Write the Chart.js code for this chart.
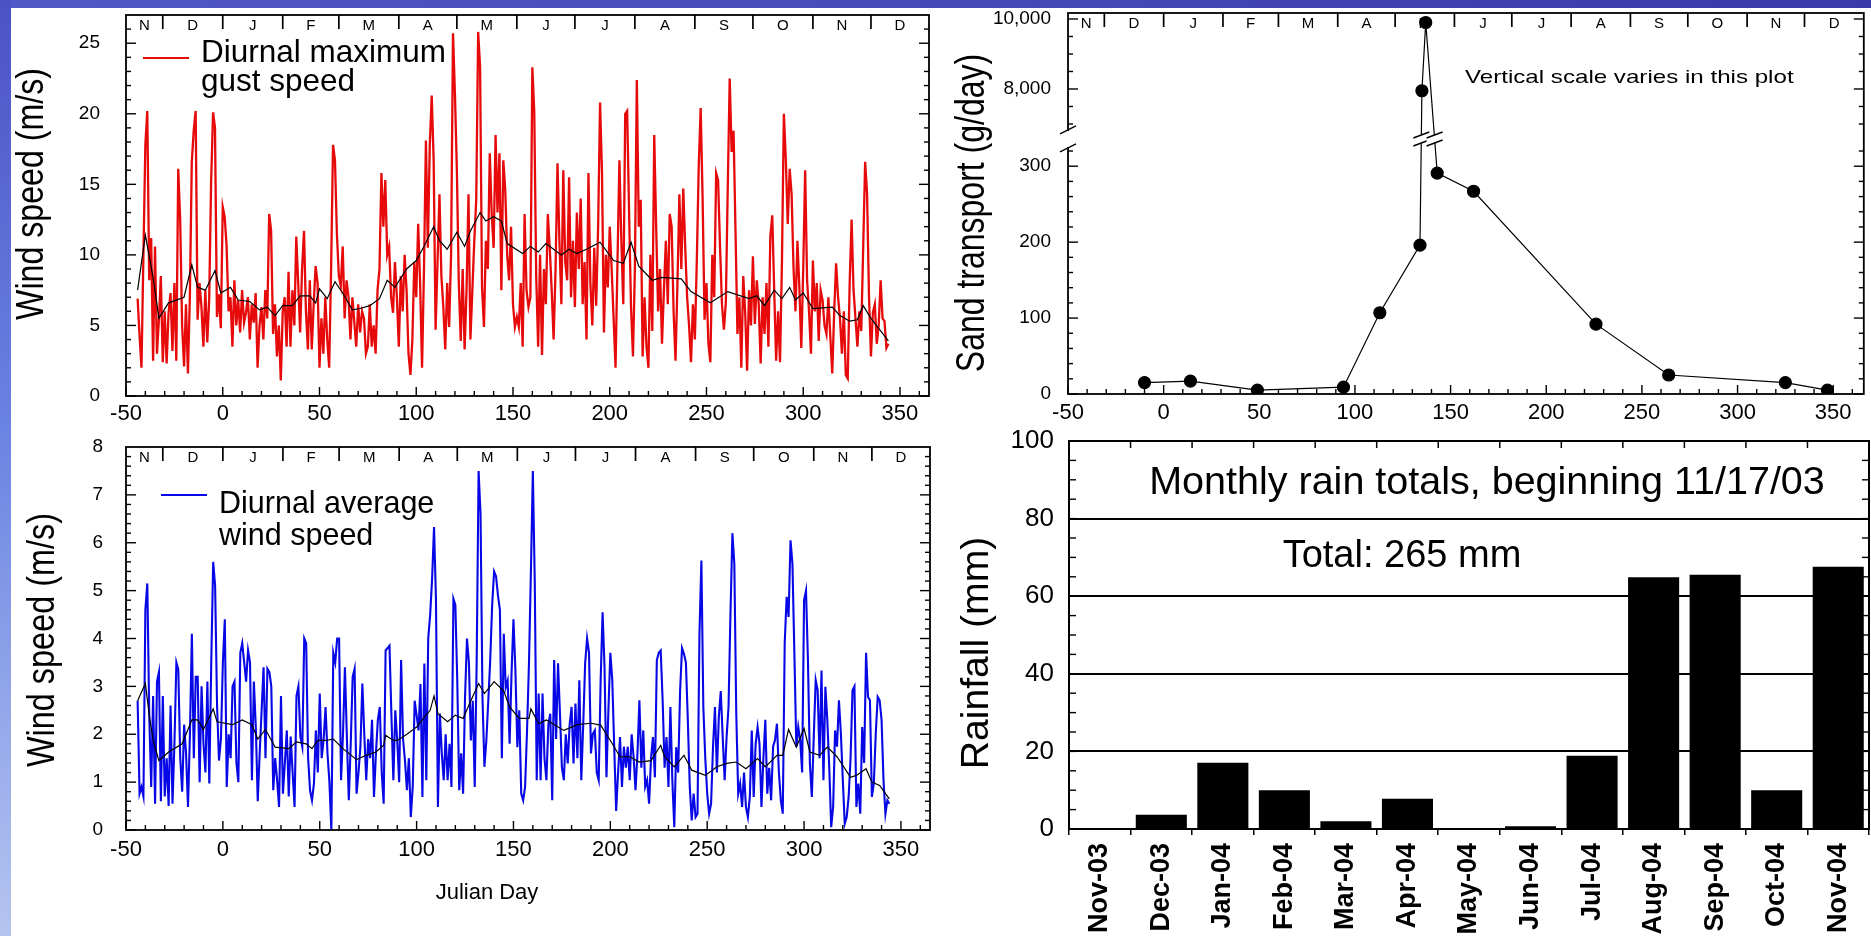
<!DOCTYPE html>
<html>
<head>
<meta charset="utf-8">
<script src="https://cdn.jsdelivr.net/npm/chart.js@4.4.1/dist/chart.umd.min.js"></script>
<style>
  html, body { margin: 0; padding: 0; background: #fff; }
  body { width: 1871px; height: 936px; position: relative; overflow: hidden; }
  canvas { position: absolute; }
  #topBand { position: absolute; left: 0; top: 0; width: 1871px; height: 8px; background: linear-gradient(to right, #5158c8, #3a3aaa); z-index: 2; }
  #leftBand { position: absolute; left: 0; top: 0; width: 11px; height: 936px; background: linear-gradient(to bottom, #4c52c6, #6a82e2 45%, #b4c4f0); z-index: 2; }
</style>
</head>
<body>
<div id="topBand"></div>
<div id="leftBand"></div>
<canvas id="gustChart" width="940" height="432" style="left:0;top:0"></canvas>
<canvas id="windChart" width="940" height="504" style="left:0;top:432px"></canvas>
<canvas id="sandChart" width="931" height="420" style="left:940px;top:0"></canvas>
<canvas id="rainChart" width="931" height="516" style="left:940px;top:420px"></canvas>
<script>
const FONT = "'Liberation Sans', Arial, Helvetica, sans-serif";

// daily series start on Julian day -44 (11/17/03)
const firstDay = -44;

const gustSpeed = [
  6.9, 4.3, 2.0, 10.0, 17.8, 20.2, 8.2, 11.2, 2.5, 10.6,
  3.0, 5.4, 8.5, 2.4, 6.0, 2.3, 5.9, 7.3, 3.2, 8.0,
  2.5, 16.1, 12.5, 5.0, 2.1, 6.5, 1.6, 7.0, 16.6, 18.8,
  20.2, 5.4, 8.0, 6.3, 3.5, 7.5, 3.8, 6.9, 15.2, 20.1,
  19.0, 5.6, 7.2, 4.8, 13.4, 12.7, 10.6, 6.0, 7.0, 3.5,
  8.2, 5.0, 6.8, 4.5, 7.5, 5.2, 5.9, 7.0, 4.0, 6.5,
  5.2, 7.3, 2.0, 5.0, 6.3, 4.0, 7.5, 5.5, 12.9, 11.7,
  4.4, 6.5, 2.8, 5.0, 1.1, 6.0, 7.0, 3.5, 8.8, 3.5,
  7.5, 5.0, 11.3, 8.0, 4.5, 9.0, 11.7, 6.0, 3.3, 8.2,
  3.3, 6.5, 9.2, 8.0, 2.0, 5.5, 3.0, 7.0, 4.0, 2.0,
  9.0, 17.8, 16.7, 11.5, 8.5, 7.8, 10.6, 5.5, 8.2, 7.0,
  4.0, 7.0, 5.2, 3.5, 6.5, 4.5, 6.0, 5.5, 3.0, 3.5,
  6.5, 3.5, 5.0, 3.0, 7.5, 9.0, 15.8, 12.0, 15.3, 10.0,
  10.6, 7.0, 5.9, 9.5, 7.0, 3.5, 8.5, 6.0, 10.0, 7.5,
  3.0, 1.5, 4.0, 9.5, 7.0, 12.2, 8.0, 2.0, 9.0, 18.1,
  10.5, 17.8, 21.3, 16.7, 4.7, 9.5, 14.3, 8.5, 6.3, 3.3,
  8.0, 4.9, 10.0, 25.7, 21.4, 16.0, 8.0, 3.9, 9.0, 3.3,
  7.5, 14.3, 4.0, 7.5, 11.0, 13.9, 25.8, 23.3, 7.7, 4.9,
  11.0, 9.0, 17.2, 12.9, 10.5, 18.5, 13.0, 17.2, 7.5, 16.7,
  14.6, 10.0, 8.2, 12.0, 6.5, 4.9, 5.6, 4.9, 8.0, 3.5,
  12.9, 7.5, 6.3, 7.0, 23.3, 20.1, 8.5, 3.5, 10.0, 2.9,
  9.0, 6.5, 12.9, 10.5, 7.5, 4.0, 9.0, 16.5, 11.0, 6.5,
  16.0, 9.5, 8.2, 15.5, 7.0, 11.0, 6.3, 13.0, 9.0, 14.0,
  6.5, 9.5, 4.0, 15.8, 8.0, 5.0, 10.5, 6.4, 12.0, 20.8,
  15.8, 4.5, 10.0, 7.7, 12.0, 9.0, 5.5, 2.0, 9.5, 16.7,
  11.0, 6.5, 20.0, 20.2, 13.0, 6.3, 2.8, 9.0, 22.4, 12.0,
  13.9, 2.8, 7.0, 3.5, 2.0, 10.0, 4.6, 18.5, 12.0, 6.0,
  9.0, 3.7, 7.5, 11.0, 6.5, 12.9, 12.0, 6.0, 2.5, 8.0,
  14.3, 9.0, 14.7, 10.6, 7.0, 5.0, 2.4, 6.5, 4.0, 9.6,
  16.3, 20.4, 14.0, 5.4, 8.0, 3.7, 2.4, 10.0, 7.0, 15.8,
  15.3, 10.6, 6.5, 4.7, 6.6, 14.8, 22.5, 17.3, 18.8, 11.7,
  4.4, 7.0, 2.0, 8.5, 5.9, 1.8, 7.5, 5.0, 9.9, 5.1,
  8.2, 6.5, 2.3, 7.0, 4.4, 8.0, 3.5, 11.3, 12.8, 7.5,
  2.5, 6.0, 2.4, 9.5, 20.0, 16.8, 12.2, 16.1, 14.3, 9.0,
  6.0, 11.0, 7.7, 3.4, 9.0, 16.0, 8.2, 6.0, 3.0, 9.6,
  6.0, 8.0, 3.9, 7.5, 6.8, 5.0, 4.4, 7.0, 4.2, 1.6,
  6.0, 9.4, 7.0, 5.5, 3.0, 6.0, 1.5, 1.25, 8.0, 12.5,
  7.5, 5.5, 3.5, 6.0, 4.6, 10.6, 16.6, 14.3, 7.0, 2.8,
  5.9, 6.5, 3.7, 5.0, 8.2, 5.5, 5.3, 3.4, 3.7
];

const gustMeanDays = [-44, -40, -36, -33, -28, -20, -16, -13, -9, -4, -1, 4, 8, 14, 19, 23, 27, 31, 36, 40,
  45, 48, 50, 54, 58, 62, 67, 71, 76, 81, 85, 89, 95, 100, 104, 109, 112, 116, 121, 125,
  128, 133, 136, 140, 144, 147, 155, 159, 163, 167, 175, 179, 183, 188, 195, 202, 207, 211, 215, 222,
  227, 237, 242, 252, 261, 272, 276, 280, 285, 289, 293, 296, 300, 305, 315, 319, 324, 328, 331, 335, 339, 344];
const gustMeanSpeed = [7.5, 11.4, 8.4, 5.5, 6.6, 7.0, 9.3, 7.7, 7.5, 8.9, 7.3, 7.7, 6.8, 6.7, 6.1, 6.3, 5.7, 6.4, 6.4, 7.1,
  7.1, 6.6, 7.6, 6.9, 8.1, 7.3, 6.1, 6.2, 6.4, 6.9, 8.2, 7.7, 9.0, 9.6, 10.6, 12.0, 11.0, 10.4, 11.6, 10.6,
  11.7, 13.0, 12.4, 12.7, 12.4, 10.8, 10.1, 10.6, 10.2, 10.8, 10.0, 10.4, 10.1, 10.4, 10.9, 9.6, 9.4, 10.9, 9.2, 8.2,
  8.4, 8.3, 7.4, 6.6, 7.4, 6.9, 7.1, 6.4, 7.5, 6.9, 7.7, 6.8, 7.3, 6.2, 6.3, 5.7, 5.3, 5.4, 6.4, 5.5, 4.8, 3.9];

const windSpeed = [
  2.7, 0.76, 0.9, 0.7, 4.6, 5.15, 2.4, 0.9, 2.8, 0.55,
  3.1, 3.3, 0.6, 2.8, 0.7, 1.5, 0.5, 2.6, 0.55, 1.8,
  3.5, 3.35, 1.5, 0.8, 2.2, 1.6, 0.48, 2.0, 4.1, 1.5,
  3.2, 3.2, 1.0, 3.0, 1.8, 1.2, 3.1, 0.97, 3.5, 5.6,
  5.1, 2.6, 1.45, 1.9, 3.5, 4.4, 0.9, 2.0, 1.5, 3.0,
  3.1, 1.4, 1.0, 3.7, 3.9, 3.5, 3.1, 3.75, 3.5, 1.04,
  3.1, 2.15, 0.6, 1.6, 2.5, 3.4, 1.5, 3.37, 3.3, 3.0,
  0.83, 1.5, 1.04, 0.48, 2.8, 0.76, 1.4, 2.08, 0.7, 1.95,
  1.2, 0.48, 2.8, 3.0, 1.95, 1.74, 4.0, 3.9, 1.5, 0.83,
  0.62, 0.97, 2.08, 1.2, 2.85, 1.5, 1.88, 2.57, 1.6, 1.0,
  0.0, 3.7, 3.5, 4.0, 4.0, 1.04, 2.0, 3.4, 1.95, 0.62,
  1.8, 3.2, 3.37, 0.76, 1.2, 1.74, 3.06, 2.0, 1.04, 1.9,
  1.5, 2.3, 0.69, 1.6, 2.3, 2.57, 1.2, 0.55, 3.75, 3.8,
  3.85, 2.4, 1.04, 2.5, 1.87, 1.0, 3.55, 1.9, 1.45, 0.83,
  1.5, 0.27, 0.9, 2.7, 2.4, 2.08, 3.05, 0.69, 3.48, 1.04,
  4.0, 4.5, 5.25, 6.33, 4.8, 0.48, 2.43, 1.6, 1.04, 2.0,
  1.04, 1.8, 0.9, 4.83, 4.7, 3.1, 0.83, 1.6, 0.76, 2.78,
  4.0, 3.5, 1.87, 2.7, 0.9, 3.5, 7.5, 6.6, 2.78, 1.32,
  1.87, 2.7, 3.55, 4.7, 5.4, 5.3, 4.9, 4.6, 1.5, 4.1,
  2.98, 3.12, 1.8, 3.27, 4.4, 3.33, 1.73, 2.5, 0.76, 0.62,
  0.9, 2.08, 3.48, 5.4, 7.5, 5.15, 1.04, 2.85, 1.04, 2.85,
  1.5, 1.04, 2.2, 2.43, 0.62, 3.55, 1.9, 3.48, 2.43, 1.3,
  1.04, 2.0, 1.39, 2.2, 2.57, 1.39, 2.64, 1.5, 3.13, 1.04,
  2.2, 3.48, 4.0, 3.7, 1.6, 2.01, 2.08, 1.2, 1.04, 3.13,
  4.55, 3.4, 1.1, 2.5, 3.7, 3.13, 1.74, 0.4, 1.2, 1.94,
  0.9, 1.74, 1.3, 1.74, 1.04, 2.0, 1.53, 0.83, 1.6, 2.71,
  1.3, 2.08, 0.9, 1.04, 0.55, 1.5, 1.94, 1.1, 3.55, 3.7,
  3.75, 2.71, 1.3, 1.94, 0.9, 2.57, 1.04, 0.06, 1.73, 1.2,
  2.9, 3.8, 3.68, 3.5, 2.29, 0.9, 0.2, 0.76, 0.27, 0.34,
  4.1, 5.63, 2.57, 1.5, 0.76, 0.34, 0.55, 1.74, 2.57, 1.2,
  2.36, 2.9, 1.94, 1.04, 1.94, 2.57, 4.5, 6.2, 5.56, 2.43,
  0.76, 0.97, 0.48, 1.2, 0.48, 0.27, 0.69, 2.08, 0.69, 1.8,
  2.15, 1.8, 0.48, 1.5, 2.3, 0.76, 1.3, 0.62, 1.74, 1.88,
  2.22, 1.2, 0.62, 0.34, 3.9, 4.87, 4.45, 6.05, 5.56, 3.68,
  1.74, 2.15, 1.87, 1.2, 4.8, 5.0, 3.54, 1.39, 0.69, 1.94,
  3.13, 2.92, 1.5, 3.33, 1.04, 2.99, 2.29, 1.3, 0.06, 0.48,
  2.08, 1.74, 2.71, 2.01, 1.04, 0.13, 0.27, 0.69, 1.5, 2.92,
  3.0, 0.48, 0.97, 0.34, 2.15, 1.4, 3.7, 2.78, 2.71, 0.69,
  0.97, 2.01, 2.78, 2.71, 2.3, 1.04, 0.34, 0.62, 0.55
];

const windMeanDays = [-44, -40, -38, -36, -33, -28, -21, -16, -13, -10, -5, -3, 5, 10, 15, 18, 22, 27, 34, 38,
  43, 46, 49, 53, 57, 62, 69, 74, 79, 83, 84, 88, 90, 95, 100, 104, 107, 109, 111, 116,
  120, 124, 128, 132, 135, 140, 145, 148, 153, 158, 159, 163, 167, 176, 183, 190, 195, 200, 205, 210,
  215, 221, 226, 228, 233, 238, 242, 249, 255, 260, 265, 270, 276, 280, 286, 289, 292, 296, 300, 303,
  308, 312, 317, 324, 327, 332, 335, 339, 344];
const windMeanSpeed = [2.7, 3.06, 2.4, 1.87, 1.45, 1.63, 1.8, 2.3, 2.3, 2.1, 2.53, 2.26, 2.2, 2.3, 2.2, 1.9, 2.1, 1.73, 1.7, 1.84,
  1.8, 1.7, 1.87, 1.87, 1.9, 1.7, 1.47, 1.56, 1.63, 1.77, 1.98, 1.87, 1.87, 2.0, 2.15, 2.36, 2.5, 2.8, 2.43, 2.26,
  2.4, 2.33, 2.7, 3.06, 2.85, 3.1, 2.9, 2.57, 2.33, 2.33, 2.53, 2.22, 2.3, 2.08, 2.2, 2.23, 2.19, 1.87, 1.53, 1.53,
  1.42, 1.45, 1.77, 1.53, 1.32, 1.56, 1.25, 1.14, 1.32, 1.39, 1.42, 1.28, 1.49, 1.32, 1.56, 1.56, 2.1, 1.73, 2.12, 1.63,
  1.56, 1.73, 1.53, 1.1, 1.14, 1.28, 1.0, 0.93, 0.65];

const transportDays = [-10, 14, 49, 94, 113, 134, 135, 137, 143, 162, 226, 264, 325, 347];
const transportRate = [15, 17, 5, 9, 107, 196, 7950, 9900, 291, 267, 92, 25, 15, 5];

const rainMonths = ['Nov-03', 'Dec-03', 'Jan-04', 'Feb-04', 'Mar-04', 'Apr-04', 'May-04',
  'Jun-04', 'Jul-04', 'Aug-04', 'Sep-04', 'Oct-04', 'Nov-04'];
const rainTotals = [0, 3.7, 17.1, 10.0, 2.0, 7.8, 0, 0.7, 18.9, 64.9, 65.5, 10.0, 67.6];

const dayTicks = [-50, 0, 50, 100, 150, 200, 250, 300, 350];
const gustTicks = [0, 5, 10, 15, 20, 25];
const windTicks = [0, 1, 2, 3, 4, 5, 6, 7, 8];
const transportTicks = [0, 100, 200, 300, 8000, 10000];
const rainTicks = [0, 20, 40, 60, 80, 100];
const monthStarts = [-31, 0, 31, 60, 91, 121, 152, 182, 213, 244, 274, 305, 335];
const monthLetters = ['N', 'D', 'J', 'F', 'M', 'A', 'M', 'J', 'J', 'A', 'S', 'O', 'N', 'D'];

// where the sand transport axis is cut
const sandBreak = { low: 324, high: 6829, lowAt: 0.6457, highAt: 0.693 };

const daily = vals => vals.map((v, i) => ({ x: firstDay + i, y: v }));
const pairs = (xs, ys) => xs.map((x, i) => ({ x, y: ys[i] }));

class BrokenScale extends Chart.LinearScale {
  static id = 'broken';
  static defaults = Chart.LinearScale.defaults;
  getPixelForValue(v) {
    if (v === null || v === undefined) return NaN;
    const b = sandBreak;
    let d;
    if (v <= b.low) d = (v - this.min) / (b.low - this.min) * b.lowAt;
    else if (v >= b.high) d = b.highAt + (v - b.high) / (this.max - b.high) * (1 - b.highAt);
    else d = b.lowAt + (v - b.low) / (b.high - b.low) * (b.highAt - b.lowAt);
    return this.getPixelForDecimal(d);
  }
}
Chart.register(BrokenScale);

function line(ctx, x1, y1, x2, y2) {
  ctx.beginPath(); ctx.moveTo(x1, y1); ctx.lineTo(x2, y2); ctx.stroke();
}

function text(ctx, str, x, y, size, o = {}) {
  ctx.save();
  ctx.translate(x, y);
  if (o.rotate) ctx.rotate(-Math.PI / 2);
  ctx.scale(o.sx || 1, 1);
  ctx.font = `${o.weight || 'normal'} ${size}px ${FONT}`;
  ctx.fillStyle = '#000';
  ctx.textAlign = o.align || 'center';
  ctx.textBaseline = o.baseline || 'alphabetic';
  ctx.fillText(str, 0, 0);
  ctx.restore();
}

function frame(chart, w) {
  const { ctx, chartArea: a } = chart;
  ctx.save();
  ctx.strokeStyle = '#000';
  ctx.lineWidth = w;
  ctx.strokeRect(a.left, a.top, a.right - a.left, a.bottom - a.top);
  ctx.restore();
}

// inward tick marks on left and right edges
function yTicks(chart, values, lenFn) {
  const { ctx, chartArea: a } = chart;
  const ys = chart.scales.y;
  ctx.save(); ctx.strokeStyle = '#000'; ctx.lineWidth = 1.4;
  values.forEach((v, i) => {
    const py = ys.getPixelForValue(v), len = lenFn(v, i);
    line(ctx, a.left, py, a.left + len, py);
    line(ctx, a.right, py, a.right - len, py);
  });
  ctx.restore();
}

function xTicks(chart, values, lenFn) {
  const { ctx, chartArea: a } = chart;
  const xs = chart.scales.x;
  ctx.save(); ctx.strokeStyle = '#000'; ctx.lineWidth = 1.4;
  values.forEach(v => {
    const px = xs.getPixelForValue(v);
    line(ctx, px, a.bottom, px, a.bottom - lenFn(v));
  });
  ctx.restore();
}

function months(chart) {
  const { ctx, chartArea: a } = chart;
  const xs = chart.scales.x;
  ctx.save(); ctx.strokeStyle = '#000'; ctx.lineWidth = 1.7;
  monthStarts.forEach(d => {
    const px = xs.getPixelForValue(d);
    line(ctx, px, a.top, px, a.top + 14);
  });
  ctx.restore();
  const edges = [xs.min, ...monthStarts, xs.max];
  monthLetters.forEach((m, i) => {
    text(ctx, m, xs.getPixelForValue((edges[i] + edges[i + 1]) / 2), a.top + 11, 15, { baseline: 'middle' });
  });
}

function legendBox(ctx, color, x1, x2, ly, tx, lines, baselines, size) {
  ctx.save(); ctx.strokeStyle = color; ctx.lineWidth = 2;
  line(ctx, x1, ly, x2, ly);
  ctx.restore();
  lines.forEach((s, i) => text(ctx, s, tx, baselines[i], size, { align: 'left' }));
}

const steps = (from, to, step) => {
  const out = [];
  for (let i = 0; from + i * step <= to + 1e-9; i++) out.push(+(from + i * step).toFixed(3));
  return out;
};

// keep the plot frames exactly where the axes say
const noPad = s => { s.paddingTop = 0; s.paddingBottom = 0; s.paddingLeft = 0; s.paddingRight = 0; };

const common = {
  responsive: false,
  animation: false,
  events: [],
  plugins: { legend: { display: false }, tooltip: { enabled: false } }
};

const dayAxis = (height, pad, max) => ({
  type: 'linear', min: -50, max: max,
  afterBuildTicks: s => { s.ticks = dayTicks.map(v => ({ value: v })); },
  afterFit: s => { s.height = height; noPad(s); },
  grid: { display: false, drawTicks: false },
  border: { display: false },
  ticks: { color: '#000', font: { family: FONT, size: 22 }, padding: pad, maxRotation: 0, autoSkip: false }
});

const valueAxis = (min, max, list, width, pad, size) => ({
  min: min, max: max,
  afterBuildTicks: s => { s.ticks = list.map(v => ({ value: v })); },
  afterFit: s => { s.width = width; noPad(s); },
  grid: { display: false, drawTicks: false },
  border: { display: false },
  ticks: { color: '#000', font: { family: FONT, size: size }, padding: pad, autoSkip: false }
});

// Diurnal maximum gust speed
new Chart(document.getElementById('gustChart'), {
  type: 'line',
  data: {
    datasets: [
      { data: pairs(gustMeanDays, gustMeanSpeed), borderColor: '#000', borderWidth: 1.2, pointRadius: 0, order: 0 },
      { data: daily(gustSpeed), borderColor: '#e60a0a', borderWidth: 2.3, pointRadius: 0, order: 1 }
    ]
  },
  options: {
    ...common,
    layout: { padding: { left: 0, top: 15, right: 11, bottom: 0 } },
    scales: { x: dayAxis(36, 4.4, 365), y: valueAxis(0, 27, gustTicks, 126, 26, 19) }
  },
  plugins: [{
    id: 'gustDecor',
    afterDraw(chart) {
      const ctx = chart.ctx;
      frame(chart, 1.8);
      yTicks(chart, steps(0, 26, 1), v => v % 5 === 0 ? 10 : 5);
      xTicks(chart, steps(-50, 360, 10), d => d % 50 === 0 ? 9 : 5);
      months(chart);
      legendBox(ctx, '#e60a0a', 143, 189, 58, 201, ['Diurnal maximum', 'gust speed'], [61.7, 91], 31.5);
      text(ctx, 'Wind speed (m/s)', 43, 194, 38, { rotate: true, sx: 0.846 });
    }
  }]
});

// Diurnal average wind speed
new Chart(document.getElementById('windChart'), {
  type: 'line',
  data: {
    datasets: [
      { data: pairs(windMeanDays, windMeanSpeed), borderColor: '#000', borderWidth: 1.2, pointRadius: 0, order: 0 },
      { data: daily(windSpeed), borderColor: '#0808e6', borderWidth: 2.1, pointRadius: 0, order: 1 }
    ]
  },
  options: {
    ...common,
    layout: { padding: { left: 0, top: 15, right: 10, bottom: 0 } },
    scales: { x: dayAxis(106, 6.3, 365), y: valueAxis(0, 8, windTicks, 126, 23, 19) }
  },
  plugins: [{
    id: 'windDecor',
    afterDraw(chart) {
      const ctx = chart.ctx;
      frame(chart, 1.8);
      yTicks(chart, steps(0, 7.8, 0.2), (v, i) => i % 5 === 0 ? 10 : 5);
      xTicks(chart, steps(-50, 360, 10), d => d % 50 === 0 ? 9 : 5);
      months(chart);
      legendBox(ctx, '#0808e6', 161, 207, 63, 219, ['Diurnal average', 'wind speed'], [81.3, 113], 30.5);
      text(ctx, 'Julian Day', 487, 461, 22, { baseline: 'middle' });
      text(ctx, 'Wind speed (m/s)', 54, 208, 38, { rotate: true, sx: 0.853 });
    }
  }]
});

// Sand transport, broken vertical axis
new Chart(document.getElementById('sandChart'), {
  type: 'line',
  data: {
    datasets: [{
      data: pairs(transportDays, transportRate),
      borderColor: '#000', borderWidth: 1.2,
      pointRadius: 6, pointBackgroundColor: '#000', pointBorderColor: '#000'
    }]
  },
  options: {
    ...common,
    layout: { padding: { left: 0, top: 13, right: 5, bottom: 0 } },
    scales: {
      x: dayAxis(26, 5.3, 366),
      y: {
        ...valueAxis(0, 10171, transportTicks, 128, 17, 19),
        type: 'broken',
        ticks: { color: '#000', font: { family: FONT, size: 19 }, padding: 17, autoSkip: false,
          callback: v => v.toLocaleString('en-US') }
      }
    }
  },
  plugins: [{
    id: 'sandDecor',
    afterDraw(chart) {
      const { ctx, chartArea: a } = chart;
      const ys = chart.scales.y;
      frame(chart, 1.8);
      const lowTop = ys.getPixelForDecimal(sandBreak.lowAt);
      const upBottom = ys.getPixelForDecimal(sandBreak.highAt);
      const minor = [...steps(0, 320, 20), ...steps(7000, 10000, 500)];
      yTicks(chart, minor, v => transportTicks.includes(v) ? 10 : 5);
      xTicks(chart, steps(-50, 360, 10), d => d % 50 === 0 ? 9 : 5);
      months(chart);
      // cut in the left axis
      ctx.save();
      ctx.fillStyle = '#fff';
      ctx.fillRect(a.left - 3, upBottom + 1, 6, lowTop - upBottom - 2);
      ctx.strokeStyle = '#000'; ctx.lineWidth = 1.4;
      line(ctx, a.left - 8, upBottom + 4, a.left + 8, upBottom - 4);
      line(ctx, a.left - 8, lowTop + 4, a.left + 8, lowTop - 4);
      // cut marks where the line crosses the gap
      const pts = chart.getDatasetMeta(0).data;
      const mid = (lowTop + upBottom) / 2;
      for (let i = 0; i < pts.length - 1; i++) {
        const p = pts[i], q = pts[i + 1];
        if ((p.y - mid) * (q.y - mid) < 0) {
          const xm = p.x + (q.x - p.x) * (mid - p.y) / (q.y - p.y);
          ctx.fillStyle = '#fff';
          ctx.beginPath();
          ctx.moveTo(xm - 8, mid - 1); ctx.lineTo(xm + 8, mid - 7);
          ctx.lineTo(xm + 8, mid + 1); ctx.lineTo(xm - 8, mid + 7);
          ctx.closePath(); ctx.fill();
          line(ctx, xm - 8, mid - 1, xm + 8, mid - 7);
          line(ctx, xm - 8, mid + 7, xm + 8, mid + 1);
        }
      }
      ctx.restore();
      text(ctx, 'Vertical scale varies in this plot', 525, 78, 19, { align: 'left', baseline: 'middle', sx: 1.27 });
      text(ctx, 'Sand transport (g/day)', 44, 213, 40, { rotate: true, sx: 0.8 });
    }
  }]
});

// Monthly rain totals
new Chart(document.getElementById('rainChart'), {
  type: 'bar',
  data: {
    labels: rainMonths,
    datasets: [{ data: rainTotals, backgroundColor: '#000', borderWidth: 0, barPercentage: 0.83, categoryPercentage: 1 }]
  },
  options: {
    ...common,
    layout: { padding: { left: 0, top: 21, right: 2, bottom: 0 } },
    scales: {
      x: {
        afterFit: s => { s.height = 107; noPad(s); },
        grid: { display: true, drawOnChartArea: false, drawTicks: true, tickLength: 6, color: '#000', lineWidth: 1.5 },
        border: { display: false },
        ticks: { color: '#000', font: { family: FONT, size: 27, weight: 'bold' }, padding: 8,
          minRotation: 90, maxRotation: 90, autoSkip: false }
      },
      y: {
        min: 0, max: 100,
        afterBuildTicks: s => { s.ticks = rainTicks.map(v => ({ value: v })); },
        afterFit: s => { s.width = 129; noPad(s); },
        grid: { color: c => (c.tick && c.tick.value > 0 && c.tick.value < 100) ? '#000' : 'rgba(0,0,0,0)', lineWidth: 2, drawTicks: false },
        border: { display: false },
        ticks: { color: '#000', font: { family: FONT, size: 26 }, padding: 15, autoSkip: false }
      }
    }
  },
  plugins: [{
    id: 'rainDecor',
    afterDraw(chart) {
      const { ctx, chartArea: a } = chart;
      const xs = chart.scales.x;
      frame(chart, 2);
      yTicks(chart, steps(0, 100, 5), () => 7);
      const half = (xs.getPixelForValue(1) - xs.getPixelForValue(0)) / 2;
      ctx.save(); ctx.strokeStyle = '#000'; ctx.lineWidth = 1.5;
      rainMonths.forEach((m, i) => {
        const px = xs.getPixelForValue(i) + half;
        line(ctx, px, a.top, px, a.top + 7);
      });
      ctx.restore();
      text(ctx, 'Monthly rain totals, beginning 11/17/03', 547, 63, 39.5, { baseline: 'middle' });
      text(ctx, 'Total: 265 mm', 462, 137, 38, { baseline: 'middle' });
      text(ctx, 'Rainfall (mm)', 48, 233, 38, { rotate: true, sx: 1.03 });
    }
  }]
});
</script>
</body>
</html>
